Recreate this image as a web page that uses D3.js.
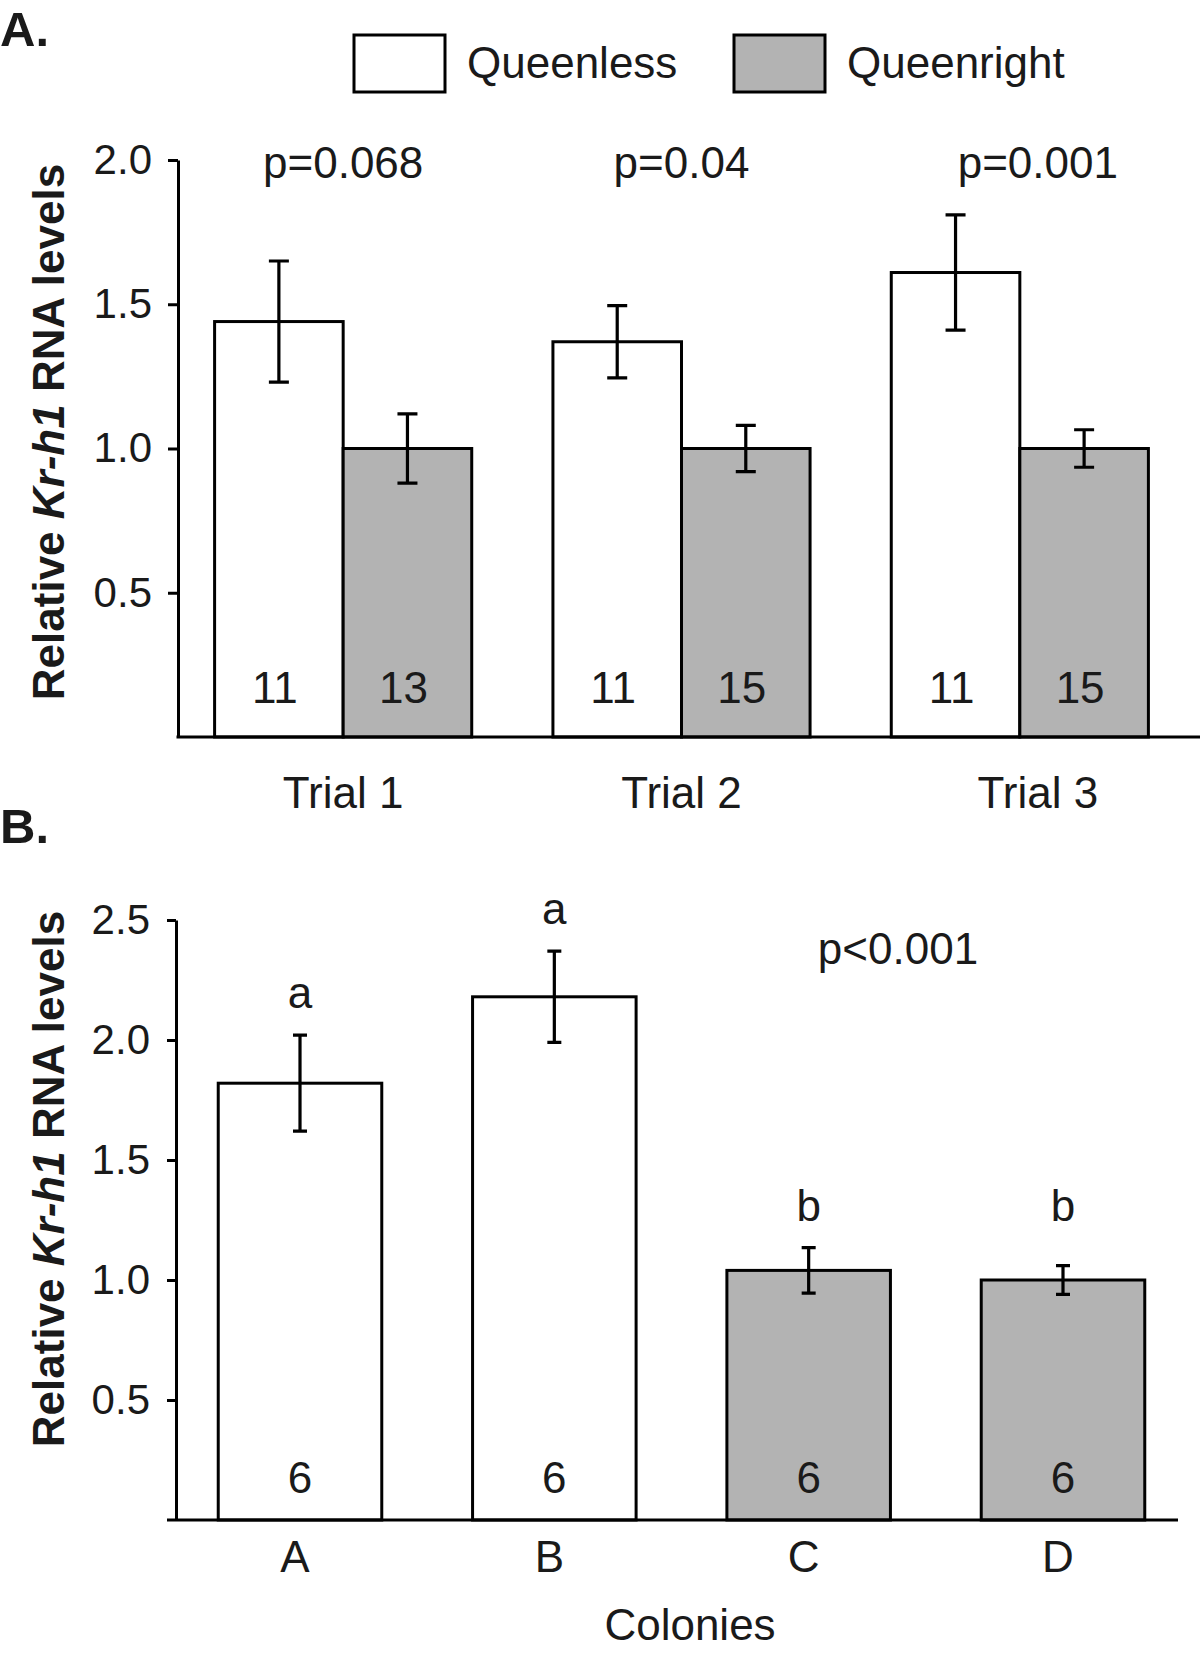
<!DOCTYPE html>
<meta charset="utf-8">
<style>
body { margin: 0; background: #fff; }
svg { display: block; }
text { font-family: "Liberation Sans", Arial, sans-serif; fill: #1a1a1a; }
.axis path, .axis line { stroke: #000; stroke-width: 3; }
.axis text { font-size: 42px; }
.bar { stroke: #000; stroke-width: 3; }
.err { stroke: #000; stroke-width: 3.2; fill: none; }
</style>
<svg width="1200" height="1656"></svg>
<script src="https://d3js.org/d3.v7.min.js"></script>
<script>

// ---- panel A data ----
var trials = ["Trial 1", "Trial 2", "Trial 3"];
var groups = ["Queenless", "Queenright"];
var queenlessMean = [1.44, 1.37, 1.61];
var queenlessErr = [0.21, 0.125, 0.2];
var queenrightMean = [1.0, 1.0, 1.0];
var queenrightErr = [0.12, 0.08, 0.065];
var queenlessN = [11, 11, 11];
var queenrightN = [13, 15, 15];
var pValuesA = ["p=0.068", "p=0.04", "p=0.001"];
var ticksA = [0.5, 1.0, 1.5, 2.0];

// ---- panel B data ----
var colonies = ["A", "B", "C", "D"];
var colonyGroup = ["Queenless", "Queenless", "Queenright", "Queenright"];
var colonyMean = [1.82, 2.18, 1.04, 1.0];
var colonyErr = [0.2, 0.19, 0.095, 0.06];
var colonyN = [6, 6, 6, 6];
var colonyLetters = ["a", "a", "b", "b"];
var pValueB = "p<0.001";
var ticksB = [0.5, 1.0, 1.5, 2.0, 2.5];

// the original figure nudges the third trial's labels a little right
var labelNudgeA = [0, 0, 18];

var svg = d3.select("svg");

var fill = d3.scaleOrdinal()
  .domain(groups)
  .range(["#ffffff", "#b3b3b3"]);

var fmt = d3.format(".1f");

// panel letters
svg.append("text").attr("x", 0).attr("y", 46)
  .attr("font-size", 49).attr("font-weight", "bold").text("A.");
svg.append("text").attr("x", 0).attr("y", 843)
  .attr("font-size", 49).attr("font-weight", "bold").text("B.");

// legend
var legend = svg.append("g").selectAll("g")
  .data(groups)
  .enter().append("g")
    .attr("transform", function(d, i) { return "translate(" + (354 + i * 380) + ",35)"; });

legend.append("rect")
  .attr("class", "bar")
  .attr("width", 91)
  .attr("height", 57)
  .attr("fill", function(d) { return fill(d); });

legend.append("text")
  .attr("x", 113)
  .attr("y", 43)
  .attr("font-size", 44)
  .text(function(d) { return d; });

function yTitle(cy) {
  var t = svg.append("text")
    .attr("transform", "translate(64," + cy + ") rotate(-90)")
    .attr("text-anchor", "middle")
    .attr("font-size", 44)
    .attr("font-weight", "bold");
  t.append("tspan").text("Relative ");
  t.append("tspan").attr("font-style", "italic").text("Kr-h1");
  t.append("tspan").text(" RNA levels");
}

// =========== Panel A ===========
var yA = d3.scaleLinear().domain([0, 2]).range([737, 160]);

var xA = d3.scaleBand()
  .domain(trials)
  .range([174, 1189])
  .paddingInner(0.24)
  .paddingOuter(0.12);

var xInner = d3.scaleBand()
  .domain(groups)
  .range([0, xA.bandwidth()]);

var dataA = [];
trials.forEach(function(t, i) {
  dataA.push({trial: t, group: "Queenless", mean: queenlessMean[i], err: queenlessErr[i], n: queenlessN[i]});
  dataA.push({trial: t, group: "Queenright", mean: queenrightMean[i], err: queenrightErr[i], n: queenrightN[i]});
});

var gA = svg.append("g");

gA.selectAll("rect.bar")
  .data(dataA)
  .enter().append("rect")
    .attr("class", "bar")
    .attr("x", function(d) { return xA(d.trial) + xInner(d.group); })
    .attr("y", function(d) { return yA(d.mean); })
    .attr("width", xInner.bandwidth())
    .attr("height", function(d) { return yA(0) - yA(d.mean); })
    .attr("fill", function(d) { return fill(d.group); });

var errA = gA.selectAll("g.errA")
  .data(dataA)
  .enter().append("g")
    .attr("transform", function(d) {
      return "translate(" + (xA(d.trial) + xInner(d.group) + xInner.bandwidth() / 2) + ",0)";
    });

errA.append("path")
  .attr("class", "err")
  .attr("d", function(d) {
    var t = yA(d.mean + d.err), b = yA(d.mean - d.err);
    return "M0," + t + "V" + b + "M-10," + t + "H10M-10," + b + "H10";
  });

gA.selectAll("text.n")
  .data(dataA)
  .enter().append("text")
    .attr("x", function(d) { return xA(d.trial) + xInner(d.group) + xInner.bandwidth() / 2 - 4; })
    .attr("y", 703)
    .attr("text-anchor", "middle")
    .attr("font-size", 44)
    .text(function(d) { return d.n; });

gA.selectAll("text.p")
  .data(trials)
  .enter().append("text")
    .attr("x", function(d, i) { return xA(d) + xA.bandwidth() / 2 + labelNudgeA[i]; })
    .attr("y", 178)
    .attr("text-anchor", "middle")
    .attr("font-size", 44)
    .text(function(d, i) { return pValuesA[i]; });

gA.selectAll("text.trial")
  .data(trials)
  .enter().append("text")
    .attr("x", function(d, i) { return xA(d) + xA.bandwidth() / 2 + labelNudgeA[i]; })
    .attr("y", 808)
    .attr("text-anchor", "middle")
    .attr("font-size", 44)
    .text(function(d) { return d; });

gA.append("g")
  .attr("class", "axis")
  .attr("transform", "translate(178,0)")
  .call(d3.axisLeft(yA).tickValues(ticksA).tickFormat(fmt).tickSize(10).tickSizeOuter(0).tickPadding(16));

gA.append("line")
  .attr("x1", 176.5).attr("x2", 1200)
  .attr("y1", yA(0)).attr("y2", yA(0))
  .attr("stroke", "#000").attr("stroke-width", 3);

yTitle(432);

// =========== Panel B ===========
var yB = d3.scaleLinear().domain([0, 2.5]).range([1520, 920]);

var xB = d3.scaleBand()
  .domain(colonies)
  .range([175, 1188])
  .paddingInner(0.357)
  .paddingOuter(0.17);

var dataB = colonies.map(function(c, i) {
  return {colony: c, group: colonyGroup[i], mean: colonyMean[i], err: colonyErr[i], n: colonyN[i], letter: colonyLetters[i]};
});

var gB = svg.append("g");

gB.selectAll("rect.bar")
  .data(dataB)
  .enter().append("rect")
    .attr("class", "bar")
    .attr("x", function(d) { return xB(d.colony); })
    .attr("y", function(d) { return yB(d.mean); })
    .attr("width", xB.bandwidth())
    .attr("height", function(d) { return yB(0) - yB(d.mean); })
    .attr("fill", function(d) { return fill(d.group); });

gB.selectAll("path.err")
  .data(dataB)
  .enter().append("path")
    .attr("class", "err")
    .attr("transform", function(d) { return "translate(" + (xB(d.colony) + xB.bandwidth() / 2) + ",0)"; })
    .attr("d", function(d) {
      var t = yB(d.mean + d.err), b = yB(d.mean - d.err);
      return "M0," + t + "V" + b + "M-7," + t + "H7M-7," + b + "H7";
    });

// letters sit above the tallest error bar of their queen-status group when
// neighbours share the letter and the fill (the two "b" bars line up)
gB.selectAll("text.letter")
  .data(dataB)
  .enter().append("text")
    .attr("x", function(d) { return xB(d.colony) + xB.bandwidth() / 2; })
    .attr("y", function(d) {
      var top = d.mean + d.err;
      if (d.group === "Queenright") {
        dataB.forEach(function(o) {
          if (o.group === d.group && o.letter === d.letter) top = Math.max(top, o.mean + o.err);
        });
      }
      return yB(top) - 27;
    })
    .attr("text-anchor", "middle")
    .attr("font-size", 44)
    .text(function(d) { return d.letter; });

gB.selectAll("text.n")
  .data(dataB)
  .enter().append("text")
    .attr("x", function(d) { return xB(d.colony) + xB.bandwidth() / 2; })
    .attr("y", 1493)
    .attr("text-anchor", "middle")
    .attr("font-size", 44)
    .text(function(d) { return d.n; });

gB.selectAll("text.colony")
  .data(colonies)
  .enter().append("text")
    .attr("x", function(d) { return xB(d) + xB.bandwidth() / 2 - 5; })
    .attr("y", 1572)
    .attr("text-anchor", "middle")
    .attr("font-size", 44)
    .text(function(d) { return d; });

gB.append("text")
  .attr("x", 898).attr("y", 964)
  .attr("text-anchor", "middle")
  .attr("font-size", 44)
  .text(pValueB);

gB.append("text")
  .attr("x", 690).attr("y", 1640)
  .attr("text-anchor", "middle")
  .attr("font-size", 44)
  .text("Colonies");

gB.append("g")
  .attr("class", "axis")
  .attr("transform", "translate(176,0)")
  .call(d3.axisLeft(yB).tickValues(ticksB).tickFormat(fmt).tickSize(9).tickSizeOuter(0).tickPadding(17));

gB.append("line")
  .attr("x1", 167).attr("x2", 1178)
  .attr("y1", yB(0)).attr("y2", yB(0))
  .attr("stroke", "#000").attr("stroke-width", 3);

yTitle(1179);

</script>
